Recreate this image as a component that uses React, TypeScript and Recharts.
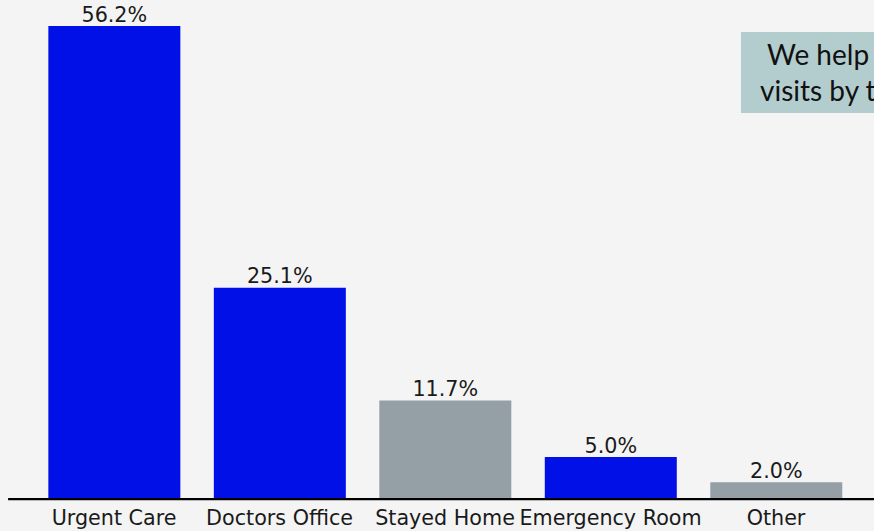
import React from "react";
import { BarChart, Bar, XAxis, YAxis, Cell, LabelList, ReferenceLine } from "recharts";

const categories = ["Urgent Care", "Doctors Office", "Stayed Home", "Emergency Room", "Other"];
const shares = [56.2, 25.1, 11.7, 5.0, 2.0];
const valueLabels = ["56.2%", "25.1%", "11.7%", "5.0%", "2.0%"];
const calloutLines = ["We help", "visits by t"];

const barColors = ["#0010E6", "#0010E6", "#95A0A6", "#0010E6", "#95A0A6"];

const data = categories.map((c, i) => ({ category: c, share: shares[i], label: valueLabels[i] }));

const FONT = "'DejaVu Sans', sans-serif";

const Tick = (props: any) => {
  const { x, y, payload } = props;
  return (
    <text x={x} y={y + 26} textAnchor="middle" fontFamily={FONT} fontSize={20.7} fill="#1a1a1a">
      {payload.value}
    </text>
  );
};

const ValueLabel = (props: any) => {
  const { x, y, width, index } = props;
  return (
    <text x={x + width / 2} y={y - 4.3} textAnchor="middle" fontFamily={FONT} fontSize={20.7} fill="#1a1a1a">
      {valueLabels[index]}
    </text>
  );
};

export default function App() {
  return (
    <div
      style={{
        position: "fixed",
        left: 0,
        top: 0,
        width: 874,
        height: 531,
        overflow: "hidden",
        background: "#F4F4F4",
      }}
    >
      <div style={{ position: "absolute", left: 0, top: 0 }}>
        <BarChart
          width={890}
          height={531}
          data={data}
          margin={{ top: 2.3, right: 8, bottom: 0, left: 8.1 }}
        >
          <XAxis
            dataKey="category"
            height={31.9}
            padding={{ left: 23.25, right: 23.25 }}
            interval={0}
            tickLine={false}
            axisLine={false}
            tickSize={0}
            tickMargin={0}
            tick={<Tick />}
          />
          <YAxis hide domain={[0, 59.01]} />
          <Bar dataKey="share" barSize={132} isAnimationActive={false}>
            {data.map((d, i) => (
              <Cell key={d.category} fill={barColors[i]} />
            ))}
            <LabelList dataKey="label" content={<ValueLabel />} />
          </Bar>
          <ReferenceLine y={0} stroke="#000" strokeWidth={2.4} ifOverflow="visible" />
        </BarChart>
      </div>
      <div
        style={{
          position: "absolute",
          left: 741,
          top: 32,
          width: 200,
          height: 81,
          background: "#B3CDCF",
          fontFamily: "Lato, 'Open Sans', sans-serif",
          fontSize: 28,
          color: "#111",
          whiteSpace: "nowrap",
        }}
      >
        <div style={{ position: "absolute", left: 26, top: 4, lineHeight: "36px" }}>{calloutLines[0]}</div>
        <div style={{ position: "absolute", left: 19, top: 40, lineHeight: "36px" }}>{calloutLines[1]}</div>
      </div>
    </div>
  );
}
